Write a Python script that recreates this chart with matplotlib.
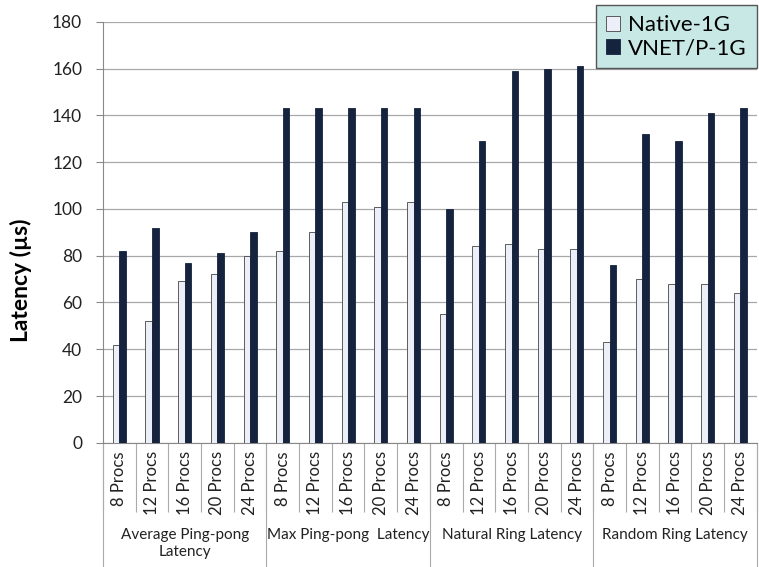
import numpy as np
import matplotlib
matplotlib.use('Agg')
import matplotlib.pyplot as plt
from matplotlib.transforms import blended_transform_factory

plt.rcParams['font.family'] = ['Lato', 'DejaVu Sans']

# Data
procs = ['8 Procs', '12 Procs', '16 Procs', '20 Procs', '24 Procs']
groups = ['Average Ping-pong\nLatency', 'Max Ping-pong  Latency',
          'Natural Ring Latency', 'Random Ring Latency']
native = [42, 52, 69, 72, 80,
          82, 90, 103, 101, 103,
          55, 84, 85, 83, 83,
          43, 70, 68, 68, 64]
vnet = [82, 92, 77, 81, 90,
        143, 143, 143, 143, 143,
        100, 129, 159, 160, 161,
        76, 132, 129, 141, 143]

n = len(native)
x = np.arange(n)
bw = 0.2

fig = plt.figure(figsize=(7.59, 5.67), dpi=100)
ax = fig.add_axes([0.1357, 0.219, 0.997 - 0.1357, 0.9617 - 0.219])

ax.bar(x - bw / 2, native, bw, color='#eceef8', edgecolor='#444444',
       linewidth=0.6, zorder=3, label='Native-1G')
ax.bar(x + bw / 2, vnet, bw, color='#15233f', edgecolor='#15233f',
       linewidth=0.6, zorder=3, label='VNET/P-1G')

ax.set_xlim(-0.5, n - 0.5)
ax.set_ylim(0, 180)
ax.set_yticks(range(0, 181, 20))
ax.yaxis.grid(True, color='#a8a8a8', linewidth=0.9)
ax.set_axisbelow(True)
ax.tick_params(axis='y', labelsize=12.5, length=5, color='#888888', pad=10,
               labelcolor='#222222')
ax.set_ylabel('Latency (\u00b5s)', fontsize=16.5, fontweight='bold')
ax.yaxis.set_label_coords(-0.108, 0.386)

for s in ['top', 'right']:
    ax.spines[s].set_visible(False)
ax.spines['left'].set_color('#888888')
ax.spines['bottom'].set_color('#888888')

# category labels and separators
ax.set_xticks(x)
ax.set_xticklabels(procs * len(groups), rotation=90, fontsize=12,
                   color='#222222')
ax.tick_params(axis='x', length=0, pad=6)
ax.set_xticks(np.arange(-0.5, n, 1), minor=True)
ax.tick_params(axis='x', which='minor', length=50, color='#aaaaaa', width=0.8)

trans = blended_transform_factory(ax.transData, ax.transAxes)
bottom = -124 / 423.0
for b in np.arange(-0.5, n, 5):
    ax.plot([b, b], [0, bottom], transform=trans, color='#aaaaaa',
            linewidth=0.8, clip_on=False)
for i, g in enumerate(groups):
    ax.text(i * 5 + 2, -0.203, g, transform=trans, ha='center', va='top',
            fontsize=11, color='#222222', linespacing=1.25)

leg = fig.legend(loc='upper right', bbox_to_anchor=(0.997, 0.991),
                 fontsize=16, frameon=True, fancybox=False,
                 handlelength=0.65, handleheight=0.65, handletextpad=0.35,
                 labelspacing=0.15, borderpad=0.45, borderaxespad=0)
leg.get_frame().set_facecolor('#c8e8e6')
leg.get_frame().set_edgecolor('#555555')
leg.get_frame().set_alpha(1)

fig.savefig('out.png', dpi=100)
